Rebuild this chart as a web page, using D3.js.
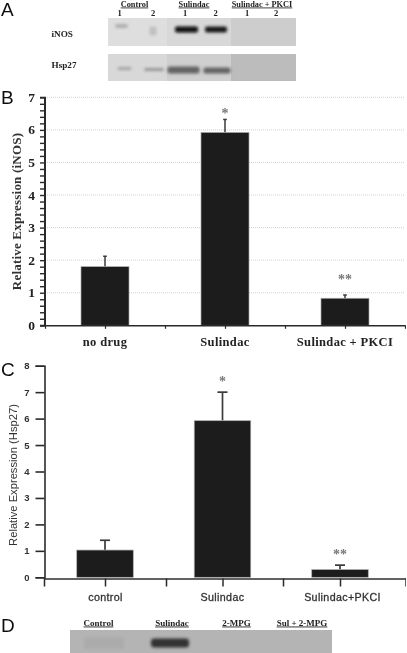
<!DOCTYPE html>
<html><head><meta charset="utf-8">
<script src="https://cdn.jsdelivr.net/npm/d3@7"></script>
<style>html,body{margin:0;padding:0;background:#fff;overflow:hidden}svg{display:block}</style>
</head><body><svg id="c" width="407" height="653"></svg>
<script>
// Panel B
const catB = ["no drug","Sulindac","Sulindac + PKCI"];
const valB = [1.8,5.92,0.83];
const errB = [2.12,6.32,0.93];
const sigB = ["","*","**"];
const sigLevelB = [0,6.37,1.26];
const ticksB = [0,1,2,3,4,5,6,7];
// Panel C
const catC = ["control","Sulindac","Sulindac+PKCI"];
const valC = [1.03,5.92,0.29];
const errC = [1.4,7.0,0.46];
const sigC = ["","*","**"];
const sigLevelC = [0,7.25,0.69];
const ticksC = [0,1,2,3,4,5,6,7,8];
// Panel A blots: relative band intensity per lane
const groupsA = ["Control","Sulindac","Sulindac + PKCI"];
const lanesA = ["C1","C2","S1","S2","P1","P2"];
const laneNumsA = ["1","2","1","2","1","2"];
const inosA = [0.17,0.08,1,0.95,0,0];
const hspA = [0.22,0.3,0.55,0.55,0,0];
// Panel D blot
const groupsD = ["Control","Sulindac","2-MPG","Sul + 2-MPG"];
const bandD = [0.03,0.8,0,0];

const svg = d3.select("#c");
const root = svg.append("g").attr("filter","url(#soft)");
const defs = svg.append("defs");
defs.append("filter").attr("id","soft").attr("x",0).attr("y",0).attr("width",1).attr("height",1)
  .append("feGaussianBlur").attr("stdDeviation",0.3);
defs.append("filter").attr("id","bl").attr("x","-50%").attr("y","-100%").attr("width","200%").attr("height","300%")
  .append("feGaussianBlur").attr("stdDeviation",1.4);
const SERIF="'Liberation Serif',serif", SANS="'Liberation Sans',sans-serif";
const dark="#2b2b2b";

function letter(t,y){root.append("text").attr("x",1).attr("y",y).attr("font-family",SANS).attr("font-size",19).attr("fill","#111").text(t);}
letter("A",16);letter("B",103.5);letter("C",375.5);letter("D",632);

function heading(t,x,y,size){root.append("text").attr("x",x).attr("y",y).attr("text-anchor","middle")
  .attr("font-family",SERIF).attr("font-weight","bold").attr("font-size",size).attr("fill","#222")
  .attr("text-decoration","underline").text(t);}

// ---------- Panel A
const laneX = d3.scaleOrdinal().domain(lanesA).range([119.5,153,185,215.5,247,276]);
const groupX = d3.scaleOrdinal().domain(groupsA).range([134.5,194,262]);
groupsA.forEach(g=>heading(g,groupX(g),6.5,8.3));
lanesA.forEach((l,i)=>root.append("text").attr("x",laneX(l)).attr("y",15.5).attr("text-anchor","middle")
  .attr("font-family",SERIF).attr("font-weight","bold").attr("font-size",8.5).attr("fill","#222").text(laneNumsA[i]));
[["iNOS",37],["Hsp27",68]].forEach(([t,y])=>root.append("text").attr("x",51.5).attr("y",y)
  .attr("font-family",SERIF).attr("font-weight","bold").attr("font-size",9.2).attr("fill","#222").text(t));

function blot(y0,y1,vals,ys,hs,ws,dx,bgs){
  [[108,167],[167,231],[231,296]].forEach((s,i)=>root.append("rect").attr("x",s[0]).attr("y",y0)
    .attr("width",s[1]-s[0]).attr("height",y1-y0).attr("fill",bgs[i]));
  const shade=d3.scaleLinear().domain([0,1]).range(["#d0d0d0","#0a0a0a"]);
  root.selectAll(null).data(vals.map((v,i)=>({v,l:lanesA[i],i})).filter(d=>d.v>0)).join("rect")
    .attr("x",d=>laneX(d.l)+dx[d.i]-ws[d.i]/2).attr("width",d=>ws[d.i])
    .attr("y",d=>ys[d.i]-hs[d.i]/2).attr("height",d=>hs[d.i]).attr("rx",2)
    .attr("fill",d=>shade(d.v)).attr("filter","url(#bl)");
}
blot(18,46,inosA,[26,31,29.5,29.5],[4,9,6,6],[13,7,23,22],[2,0,1.5,0.5],["#dedede","#d8d8d8","#cdcdcd"]);
blot(54,81,hspA,[68.5,69.5,70,70.5],[3,3,7,6],[14,20,32,27],[5,1,-1.5,1.5],["#d8d8d8","#cfcfcf","#bcbcbc"]);

// ---------- Panel B
const xB = d3.scaleLinear().domain([0,3]).range([45,405]);
const yB = d3.scaleLinear().domain([0,7]).range([325.3,97.3]);
root.append("g").selectAll("line").data(ticksB.slice(1)).join("line")
  .attr("x1",xB(0)).attr("x2",xB(3)).attr("y1",d=>yB(d)).attr("y2",d=>yB(d))
  .attr("stroke","#c6c6c6").attr("stroke-width",0.8).attr("stroke-dasharray","1 1");
drawBars(xB,yB,valB,errB,sigB,sigLevelB,48,1.5,3.6);
const minorB = d3.range(0,35).map(i=>i/5);
const axLB = root.append("g").attr("transform",`translate(44.5,0)`)
  .call(d3.axisLeft(yB).tickValues(minorB).tickSize(4.5).tickFormat(""));
axLB.selectAll("path,line").attr("stroke",dark).attr("stroke-width",1.4);
axLB.select("path").attr("stroke-width",2);
root.selectAll(null).data(ticksB).join("text").attr("x",35).attr("y",d=>yB(d)+4.5).attr("text-anchor","end")
  .attr("font-family",SERIF).attr("font-weight","bold").attr("font-size",13.5).attr("fill","#222").text(d=>d);
const axBB = root.append("g").attr("transform",`translate(0,${yB(0)})`)
  .call(d3.axisBottom(xB).tickValues(d3.range(0,3.01,0.5)).tickSize(3.5).tickFormat("").tickSizeOuter(0));
axBB.selectAll("path,line").attr("stroke",dark).attr("stroke-width",1.2);
axBB.select("path").attr("stroke-width",1.6);
root.selectAll(null).data(catB).join("text").attr("x",(d,i)=>xB(i+0.5)).attr("y",346).attr("text-anchor","middle")
  .attr("font-family",SERIF).attr("font-weight","bold").attr("font-size",12.5).attr("letter-spacing",0.35).attr("fill","#222").text(d=>d);
root.append("text").attr("transform",`translate(21,211.5) rotate(-90)`).attr("text-anchor","middle")
  .attr("font-family",SERIF).attr("font-weight","bold").attr("font-size",13).attr("letter-spacing",0.2).attr("fill","#333").text("Relative Expression (iNOS)");

// ---------- Panel C
const xC = d3.scaleLinear().domain([0,0.5,1,1.5,2,2.5,3]).range([44,105,166,222.5,283,340,405.5]);
const yC = d3.scaleLinear().domain([0,8]).range([577.3,365.7]);
drawBars(xC,yC,valC,errC,sigC,sigLevelC,56.5,1.7,10);
const axLC = root.append("g").attr("transform",`translate(44.5,0)`)
  .call(d3.axisLeft(yC).tickValues(ticksC).tickSize(9).tickFormat(""));
axLC.selectAll("path,line").attr("stroke",dark).attr("stroke-width",1.6);
root.selectAll(null).data(ticksC).join("text").attr("x",29.5).attr("y",d=>yC(d)+3.5).attr("text-anchor","end")
  .attr("font-family",SANS).attr("font-weight","bold").attr("font-size",9.5).attr("fill","#333").text(d=>d);
const axBC = root.append("g").attr("transform",`translate(0,578.5)`)
  .call(d3.axisBottom(xC).tickValues(d3.range(0,3.01,0.5)).tickSize(8).tickFormat("").tickSizeOuter(0));
axBC.selectAll("path,line").attr("stroke",dark).attr("stroke-width",1.5);
root.selectAll(null).data(catC).join("text").attr("x",(d,i)=>xC(i+0.5)+[0.5,0,2.5][i]).attr("y",601).attr("text-anchor","middle")
  .attr("font-family",SANS).attr("font-size",10.7).attr("stroke","#333").attr("stroke-width",0.3).attr("letter-spacing",0.35).attr("fill","#333").text(d=>d);
root.append("text").attr("transform",`translate(16.5,475) rotate(-90)`).attr("text-anchor","middle")
  .attr("font-family",SANS).attr("font-size",11.2).attr("fill","#333").text("Relative Expression (Hsp27)");

// ---------- Panel D
root.append("rect").attr("x",70).attr("y",630).attr("width",262).attr("height",23).attr("fill","#b4b4b4");
const laneD = d3.scaleOrdinal().domain(groupsD).range([104,170,236,302]);
const groupXD = d3.scaleOrdinal().domain(groupsD).range([98.5,172,236.5,302]);
groupsD.forEach(g=>heading(g,groupXD(g),625.5,9));
const shadeD = d3.scaleLinear().domain([0,1]).range(["#b0b0b0","#141414"]);
root.selectAll(null).data(bandD.map((v,i)=>({v,g:groupsD[i]})).filter(d=>d.v>0)).join("rect")
  .attr("x",d=>laneD(d.g)-(d.v>0.5?19:20)).attr("width",d=>d.v>0.5?38:40)
  .attr("y",d=>d.v>0.5?638.5:637).attr("height",d=>d.v>0.5?9:12).attr("rx",3)
  .attr("fill",d=>shadeD(d.v)).attr("filter","url(#bl)");

function drawBars(x,y,vals,errs,sigs,levels,w,sw,cap){
  root.append("g").selectAll("line").data(vals).join("line")
    .attr("x1",(d,i)=>x(i+0.5)).attr("x2",(d,i)=>x(i+0.5))
    .attr("y1",d=>y(d)).attr("y2",(d,i)=>y(errs[i]))
    .attr("stroke","#3a3a3a").attr("stroke-width",sw);
  root.append("g").selectAll("line").data(errs).join("line")
    .attr("x1",(d,i)=>x(i+0.5)-cap/2).attr("x2",(d,i)=>x(i+0.5)+cap/2)
    .attr("y1",d=>y(d)).attr("y2",d=>y(d))
    .attr("stroke","#3a3a3a").attr("stroke-width",sw);
  root.append("g").selectAll("rect").data(vals).join("rect")
    .attr("x",(d,i)=>x(i+0.5)-w/2).attr("width",w)
    .attr("y",d=>y(d)).attr("height",d=>y(0)-y(d))
    .attr("fill","#1a1a1a").attr("stroke","#a9a9a9").attr("stroke-width",0.7);
  root.append("g").selectAll("text").data(sigs).join("text")
    .attr("x",(d,i)=>x(i+0.5)).attr("y",(d,i)=>y(levels[i]))
    .attr("text-anchor","middle").attr("font-family",SERIF).attr("font-weight","bold")
    .attr("font-size",14).attr("fill","#777").text(d=>d);
}
</script></body></html>
